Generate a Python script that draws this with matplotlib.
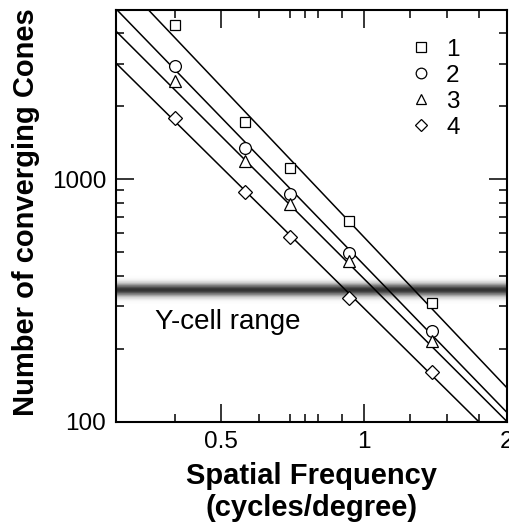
import numpy as np
import matplotlib
matplotlib.use('Agg')
import matplotlib.pyplot as plt
from matplotlib.ticker import FixedLocator, FixedFormatter, NullFormatter

# ---- data ----
freq = [0.4, 0.56, 0.7, 0.93, 1.39]
cones_1 = [4340, 1726, 1118, 676, 309]
cones_2 = [2943, 1343, 867, 498, 236]
cones_3 = [2551, 1191, 788, 459, 216]
cones_4 = [1786, 886, 580, 324, 161]
series_labels = ['1', '2', '3', '4']
series_markers = ['s', 'o', '^', 'D']
# power-law fits  N = coef * f ** exp
fit_coef = [578, 444, 389, 294]
fit_exp = [-2.063, -2.02, -1.954, -1.934]
ycell_level = 350
ycell_label = 'Y-cell range'

x_major = [0.5, 1, 2]
x_major_labels = ['0.5', '1', '2']
x_minor = [0.4, 0.6, 0.7, 0.75, 0.8, 0.9, 1.25, 1.5, 1.75]
y_major = [100, 1000]
y_major_labels = ['100', '1000']
y_minor = [200, 300, 400, 500, 600, 700, 800, 900, 2000, 3000, 4000]
xlim = (0.3, 2)
ylim = (100, 5000)

plt.rcParams['font.family'] = ['Liberation Sans', 'DejaVu Sans']

fig = plt.figure(figsize=(5.10, 5.28), dpi=100)
ax = fig.add_axes([116/510, 1-421.7/528, (506.7-116)/510, (421.7-10)/528])
ax.set_xscale('log')
ax.set_yscale('log')

# Y-cell range band (blurred gray)
lc = np.log10(ycell_level)
n = 80
half = 0.06
sigma = 0.018
edges = np.linspace(lc - half, lc + half, n + 1)
for i in range(n):
    mid = 0.5 * (edges[i] + edges[i+1])
    g = 1 - 0.8 * np.exp(-0.5 * ((mid - lc) / sigma) ** 2)
    ax.axhspan(10 ** edges[i], 10 ** edges[i+1], color=str(g), lw=0, zorder=0)

# fit lines
xs = np.geomspace(xlim[0], xlim[1], 200)
for c, e in zip(fit_coef, fit_exp):
    ax.plot(xs, c * xs ** e, color='black', lw=1.1, zorder=2)

series = [cones_1, cones_2, cones_3, cones_4]
sizes = [7.5, 8.5, 8.5, 7]
for ys, m, lab, ms in zip(series, series_markers, series_labels, sizes):
    ax.plot(freq, ys, linestyle='none', marker=m, markersize=ms,
            markerfacecolor='white', markeredgecolor='black',
            markeredgewidth=0.9, label=lab, zorder=3)

ax.set_xlim(*xlim)
ax.set_ylim(*ylim)

ax.xaxis.set_major_locator(FixedLocator(x_major))
ax.xaxis.set_major_formatter(FixedFormatter(x_major_labels))
ax.xaxis.set_minor_locator(FixedLocator(x_minor))
ax.xaxis.set_minor_formatter(NullFormatter())
ax.yaxis.set_major_locator(FixedLocator(y_major))
ax.yaxis.set_major_formatter(FixedFormatter(y_major_labels))
ax.yaxis.set_minor_locator(FixedLocator(y_minor))
ax.yaxis.set_minor_formatter(NullFormatter())

ax.tick_params(which='both', direction='in', top=True, right=True,
               labelsize=17.5, width=1.1)
ax.tick_params(which='major', length=13, pad=7)
ax.tick_params(which='minor', length=6)
for s in ax.spines.values():
    s.set_linewidth(1.5)

ax.text(0.1, 0.242, ycell_label, transform=ax.transAxes, fontsize=20,
        va='center', ha='left', zorder=4)

ax.set_xlabel('Spatial Frequency\n(cycles/degree)', fontsize=21,
              fontweight='bold', labelpad=6, linespacing=1.2)
ax.set_ylabel('Number of converging Cones', fontsize=21,
              fontweight='bold')
ax.yaxis.set_label_coords(-0.195, 0.51)

leg = ax.legend(loc='upper left', bbox_to_anchor=(0.755, 0.93),
                frameon=False, fontsize=17.5, handlelength=0.8,
                handletextpad=0.65, borderpad=0, borderaxespad=0,
                labelspacing=0.16, markerscale=0.9)

fig.savefig('out.png', dpi=100)
